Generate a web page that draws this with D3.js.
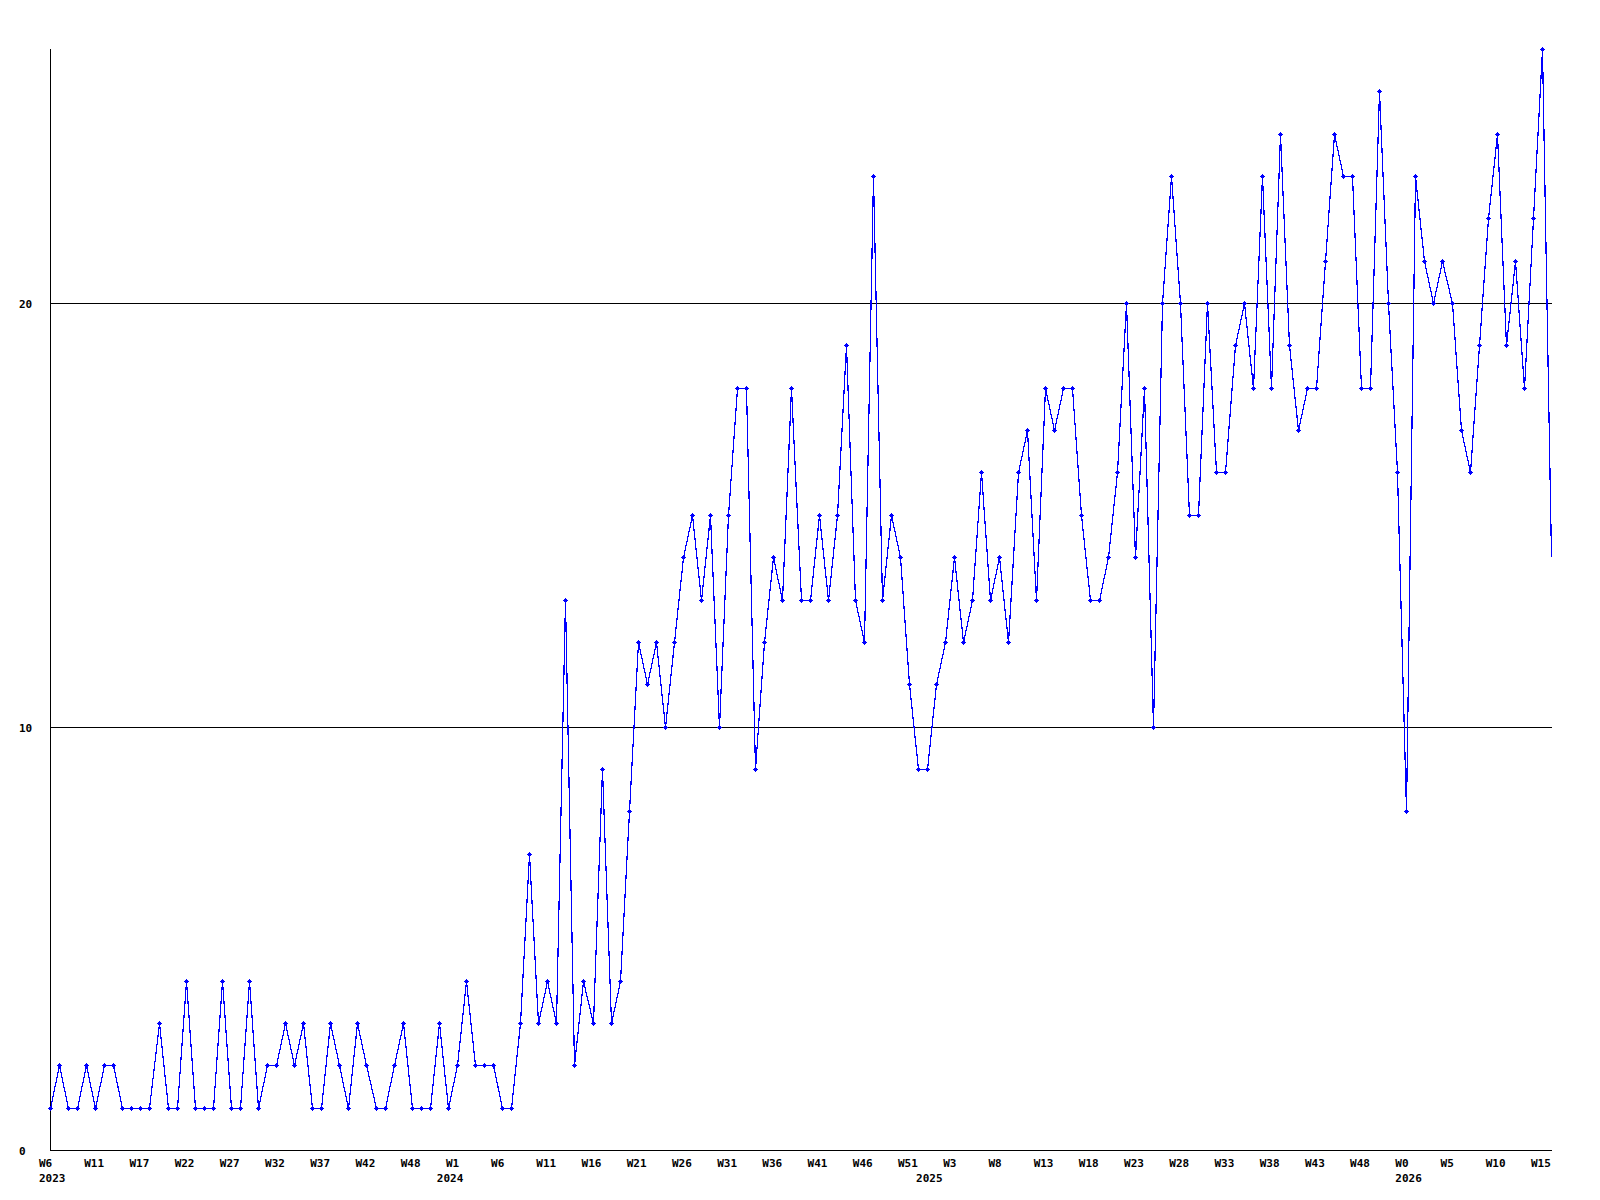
<!DOCTYPE html>
<html>
<head>
<meta charset="utf-8">
<script src="https://cdn.jsdelivr.net/npm/d3@7/dist/d3.min.js"></script>
<style>
  body { margin: 0; background: #fff; }
  text { font-family: "DejaVu Sans Mono", "Liberation Mono", monospace; font-weight: bold; font-size: 11px; }
</style>
</head>
<body>
<div id="chart"></div>
<script>
// weekly counts, oldest first (last one is the running week)
const counts = [
  1, 2, 1, 1, 2, 1, 2, 2, 1, 1,
  1, 1, 3, 1, 1, 4, 1, 1, 1, 4,
  1, 1, 4, 1, 2, 2, 3, 2, 3, 1,
  1, 3, 2, 1, 3, 2, 1, 1, 2, 3,
  1, 1, 1, 3, 1, 2, 4, 2, 2, 2,
  1, 1, 3, 7, 3, 4, 3, 13, 2, 4,
  3, 9, 3, 4, 8, 12, 11, 12, 10, 12,
  14, 15, 13, 15, 10, 15, 18, 18, 9, 12,
  14, 13, 18, 13, 13, 15, 13, 15, 19, 13,
  12, 23, 13, 15, 14, 11, 9, 9, 11, 12,
  14, 12, 13, 16, 13, 14, 12, 16, 17, 13,
  18, 17, 18, 18, 15, 13, 13, 14, 16, 20,
  14, 18, 10, 20, 23, 20, 15, 15, 20, 16,
  16, 19, 20, 18, 23, 18, 24, 19, 17, 18,
  18, 21, 24, 23, 23, 18, 18, 25, 20, 16,
  8, 23, 21, 20, 21, 20, 17, 16, 19, 22,
  24, 19, 21, 18, 22, 26, 14
];

// one week label every 5 points
const weekLabels = [
  "W6", "W11", "W17", "W22", "W27", "W32", "W37", "W42", "W48",
  "W1", "W6", "W11", "W16", "W21", "W26", "W31", "W36", "W41", "W46", "W51",
  "W3", "W8", "W13", "W18", "W23", "W28", "W33", "W38", "W43", "W48",
  "W0", "W5", "W10", "W15"
];
const weekStep = 5;

// year labels and the point where each year starts
const yearLabels = ["2023", "2024", "2025", "2026"];
const yearStart = [0, 44, 97, 150];

const yTicks = [0, 10, 20];
const yMax = 26;

const W = 1600, H = 1200;
const margin = {top: 49, right: 49, bottom: 50, left: 50};

const svg = d3.select("#chart").append("svg")
  .attr("width", W)
  .attr("height", H);

const x = d3.scaleLinear()
  .domain([0, counts.length - 1])
  .range([margin.left, W - margin.right]);

const y = d3.scaleLinear()
  .domain([0, yMax])
  .range([H - margin.bottom, margin.top]);

const px = v => Math.round(v) + 0.5;

// grid lines
svg.append("g")
  .selectAll("line")
  .data(yTicks.filter(d => d > 0))
  .join("line")
    .attr("x1", margin.left)
    .attr("x2", W - margin.right + 1)
    .attr("y1", d => px(y(d)))
    .attr("y2", d => px(y(d)))
    .attr("stroke", "#000")
    .attr("shape-rendering", "crispEdges");

// axes
svg.append("line")
  .attr("x1", px(x(0))).attr("x2", px(x(0)))
  .attr("y1", y(yMax)).attr("y2", y(0) + 1)
  .attr("stroke", "#000")
  .attr("shape-rendering", "crispEdges");
svg.append("line")
  .attr("x1", x(0)).attr("x2", W - margin.right + 1)
  .attr("y1", px(y(0))).attr("y2", px(y(0)))
  .attr("stroke", "#000")
  .attr("shape-rendering", "crispEdges");

// y labels
svg.append("g")
  .selectAll("text")
  .data(yTicks)
  .join("text")
    .attr("x", 19)
    .attr("y", d => y(d) + 5)
    .text(d => d);

// week labels
svg.append("g")
  .selectAll("text")
  .data(weekLabels)
  .join("text")
    .attr("x", (d, i) => x(i * weekStep) - 11)
    .attr("y", 1167)
    .text(d => d);

// year labels
svg.append("g")
  .selectAll("text")
  .data(yearLabels)
  .join("text")
    .attr("x", (d, i) => x(yearStart[i]) - 11)
    .attr("y", 1182)
    .text(d => d);

// data line
const line = d3.line()
  .x((d, i) => px(x(i)))
  .y(d => px(y(d)));

svg.append("path")
  .datum(counts)
  .attr("d", line)
  .attr("fill", "none")
  .attr("stroke", "#0000ff")
  .attr("stroke-width", 1.2)
  .attr("shape-rendering", "crispEdges");

// markers on all complete weeks
const marker = "M-2,-0.5h5v1h-5z M0,-2.5h1v5h-1z M-1,-1.5h3v3h-3z";
svg.append("g")
  .selectAll("path")
  .data(counts.slice(0, -1))
  .join("path")
    .attr("transform", (d, i) => `translate(${Math.round(x(i))},${Math.round(y(d))})`)
    .attr("d", marker)
    .attr("fill", "#0000ff")
    .attr("shape-rendering", "crispEdges");
</script>
</body>
</html>
